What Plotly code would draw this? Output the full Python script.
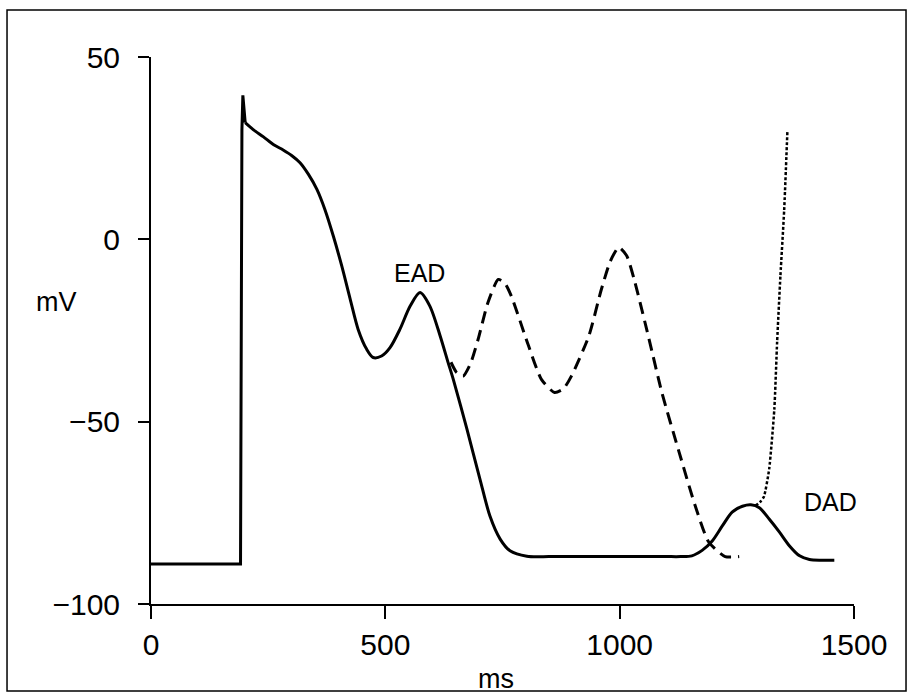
import plotly.graph_objects as go

# Solid action potential: resting level and upstroke (ms, mV)
up_ms = [0, 191, 194, 196, 201]
up_mv = [-89, -89, 30, 39.5, 32]

# Solid action potential: plateau, EAD, repolarisation and DAD (ms, mV)
ap_ms = [201, 218, 240, 261, 282, 300, 318, 336, 354, 371, 389, 407, 425, 442, 460, 474,
         492, 510, 531, 553, 574, 595, 617, 634, 645, 674, 702, 723, 745, 766, 802, 850,
         900, 950, 1000, 1050, 1100, 1130, 1154, 1176, 1197, 1219, 1240, 1262, 1280, 1298,
         1319, 1341, 1362, 1384, 1405, 1430, 1458]
ap_mv = [32, 30.1, 28.1, 26, 24.5, 23, 21, 17.8, 13.7, 8.2, 0.9, -7.3, -16.4, -24.7, -30.1, -32.4,
         -32, -29.7, -24.7, -18.3, -14.6, -18.3, -26.5, -33.8, -38.4, -52, -65.8, -75.8, -82.2, -85.4, -86.9, -87,
         -87, -87, -87, -87, -87, -87, -86.8, -85.3, -82.8, -78.6, -74.8, -73.2, -72.8, -73.6,
         -76.7, -80.3, -84, -86.8, -87.8, -88, -88]

# Dashed: repetitive EADs
dash_ms = [640, 652, 666, 682, 698, 719, 741, 755, 769, 805, 833, 861, 880, 897, 934, 961,
           980, 998, 1015, 1032, 1062, 1090, 1126, 1161, 1190, 1225, 1255]
dash_mv = [-33.7, -36.5, -37.5, -34, -27.4, -17.3, -11, -12, -15.6, -29, -38.4, -42, -41, -37.5,
           -26.6, -13.7, -6, -2.2, -4.5, -11.5, -27, -42, -58, -73, -83, -87, -87]

# Dotted: triggered activity from DAD
dot_ms = [1290, 1300, 1308, 1319, 1330, 1336, 1343, 1351, 1358]
dot_mv = [-73, -72, -70.5, -63, -46.6, -28, -10, 8, 30]

x_ticks = [0, 500, 1000, 1500]
y_ticks = [-100, -50, 0, 50]

fig = go.Figure()
fig.add_trace(go.Scatter(x=up_ms, y=up_mv, mode="lines",
                         line=dict(color="black", width=3)))
fig.add_trace(go.Scatter(x=ap_ms, y=ap_mv, mode="lines",
                         line=dict(color="black", width=3, shape="spline", smoothing=0.8)))
fig.add_trace(go.Scatter(x=dash_ms, y=dash_mv, mode="lines",
                         line=dict(color="black", width=3, dash="12px,7px", shape="spline", smoothing=0.6)))
fig.add_trace(go.Scatter(x=dot_ms, y=dot_mv, mode="lines",
                         line=dict(color="black", width=2.5, dash="3px,2px", shape="spline", smoothing=0.5)))

fig.update_layout(
    width=915, height=700,
    margin=dict(l=151, r=61, t=57, b=96),
    paper_bgcolor="white", plot_bgcolor="white",
    showlegend=False,
    font=dict(family="Liberation Sans, Arial, sans-serif", size=30, color="black"),
    xaxis=dict(range=[0, 1500], tickvals=x_ticks, ticks="outside", ticklen=13, tickwidth=2,
               tickcolor="black", showline=True, linecolor="black", linewidth=2,
               showgrid=False, zeroline=False, ticklabelstandoff=0,
               tickfont=dict(size=30)),
    yaxis=dict(range=[-100, 50], tickvals=y_ticks, ticks="outside", ticklen=11, tickwidth=2,
               tickcolor="black", showline=True, linecolor="black", linewidth=2,
               showgrid=False, zeroline=False, ticklabelstandoff=12,
               tickfont=dict(size=30)),
    annotations=[
        dict(x=572, y=-9.3, xref="x", yref="y", text="EAD", showarrow=False,
             xanchor="center", yanchor="middle", font=dict(size=25)),
        dict(x=1450, y=-72, xref="x", yref="y", text="DAD", showarrow=False,
             xanchor="center", yanchor="middle", font=dict(size=25)),
        dict(x=-0.134, y=0.552, xref="paper", yref="paper", text="mV", showarrow=False,
             xanchor="center", yanchor="middle", font=dict(size=27)),
        dict(x=0.491, y=-0.138, xref="paper", yref="paper", text="ms", showarrow=False,
             xanchor="center", yanchor="middle", font=dict(size=27)),
    ],
    shapes=[
        dict(type="rect", xref="paper", yref="paper", x0=-0.2048, x1=1.074, y0=-0.159, y1=1.086,
             line=dict(color="black", width=1.5), fillcolor="rgba(0,0,0,0)"),
    ],
)

fig.write_html("out.html", config={"displayModeBar": False},
               post_script="document.body.style.margin='0px';")
